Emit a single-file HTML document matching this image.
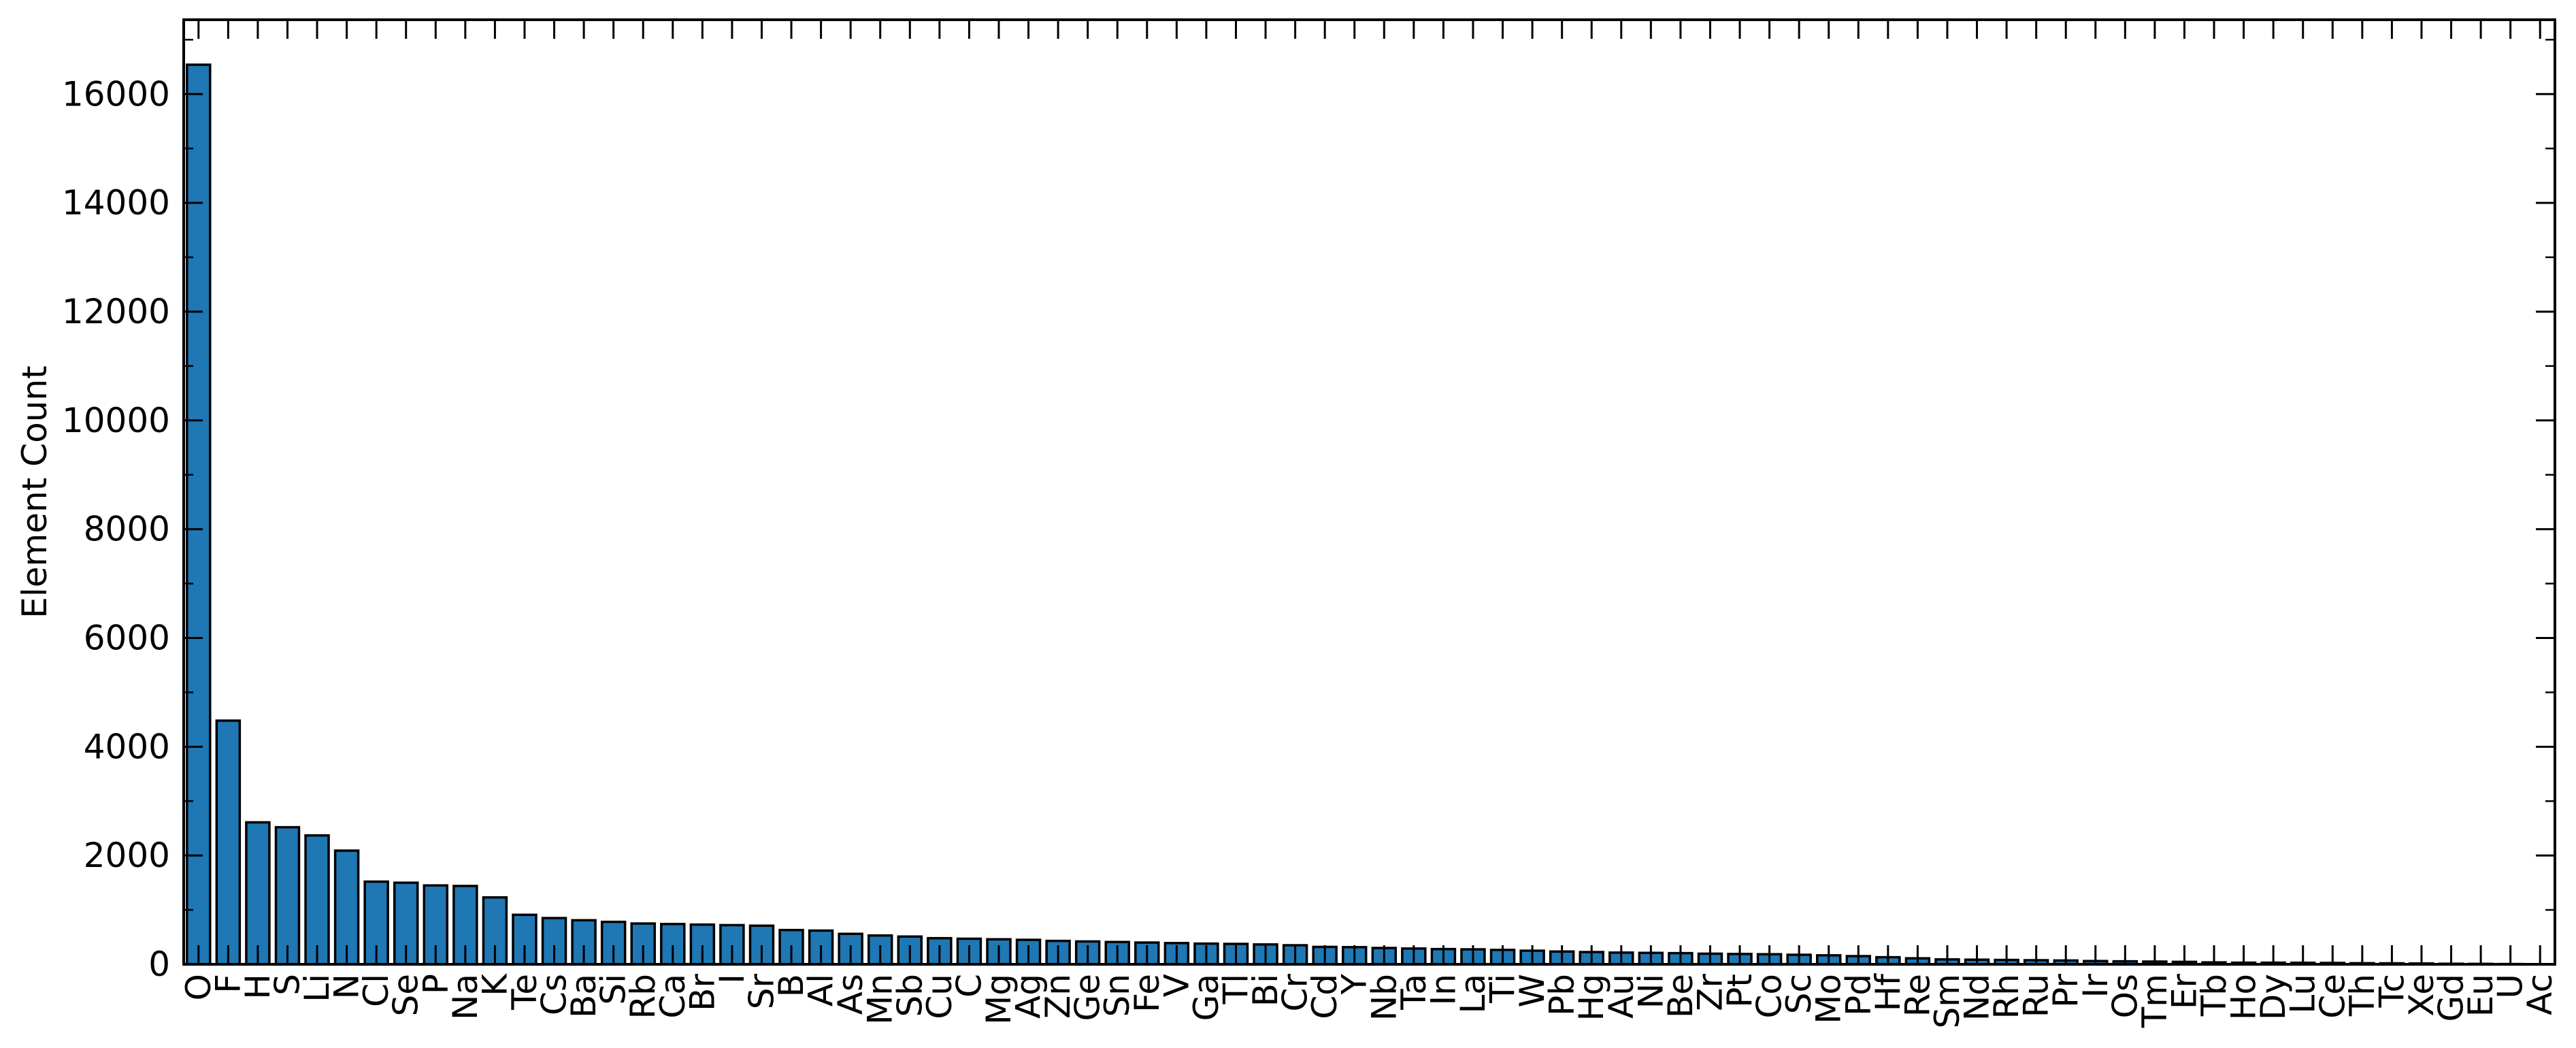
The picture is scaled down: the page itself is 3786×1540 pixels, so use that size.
<!DOCTYPE html>
<html><head><meta charset="utf-8">
<style>
html,body{margin:0;padding:0;background:#fff;}
svg{display:block;}
text{font-family:"DejaVu Sans","Liberation Sans",sans-serif;fill:#000;}
</style></head>
<body>
<svg id="chart" width="3786" height="1540" viewBox="0 0 3786 1540" xmlns="http://www.w3.org/2000/svg">
<g id="bars"></g>
<g id="axes"></g>
</svg>
<script>
const categories = ["O","F","H","S","Li","N","Cl","Se","P","Na","K","Te","Cs","Ba","Si","Rb","Ca","Br","I","Sr","B","Al","As","Mn","Sb","Cu","C","Mg","Ag","Zn","Ge","Sn","Fe","V","Ga","Tl","Bi","Cr","Cd","Y","Nb","Ta","In","La","Ti","W","Pb","Hg","Au","Ni","Be","Zr","Pt","Co","Sc","Mo","Pd","Hf","Re","Sm","Nd","Rh","Ru","Pr","Ir","Os","Tm","Er","Tb","Ho","Dy","Lu","Ce","Th","Tc","Xe","Gd","Eu","U","Ac"];
const counts = [16540,4480,2610,2520,2370,2090,1520,1500,1450,1440,1230,910,850,810,780,750,740,730,720,710,630,620,560,530,510,480,470,460,450,430,420,410,400,390,380,375,365,350,320,315,300,290,280,275,265,250,235,225,215,210,205,195,190,185,175,165,150,130,110,90,85,80,75,70,60,55,50,45,35,30,30,28,25,20,18,15,10,8,5,3];
const yTicks = [0,2000,4000,6000,8000,10000,12000,14000,16000];
const yMinorTicks = [1000,3000,5000,7000,9000,11000,13000,15000,17000];

const NS = "http://www.w3.org/2000/svg";
const L = 270, R = 3755, T = 29, B = 1417;
const yMax = 17367;
const n = categories.length;
const step = (R - L) / n;
const FS = 50;
function xScale(i){ return L + (i + 0.5) * step; }
function yScale(v){ return B - v / yMax * (B - T); }
function mk(tag, attrs, parent){
  const e = document.createElementNS(NS, tag);
  for (const k in attrs) e.setAttribute(k, attrs[k]);
  parent.appendChild(e);
  return e;
}
const gb = document.getElementById('bars');
const ga = document.getElementById('axes');
const bw = step * 0.78;
counts.forEach((v, i) => {
  const y = yScale(v);
  const r = mk('rect', {x: xScale(i) - bw/2, y: y, width: bw, height: B - y, fill: '#1f77b4', stroke: '#000', 'stroke-width': 3.5}, gb);
  
  
});
categories.forEach((c, i) => {
  const x = xScale(i);
  const t1 = mk('line', {x1: x, x2: x, y1: B, y2: B - 28, stroke: '#000', 'stroke-width': 3}, ga);
  
  
  const t2 = mk('line', {x1: x, x2: x, y1: T, y2: T + 28, stroke: '#000', 'stroke-width': 3}, ga);
  
  
  const tx = mk('text', {x: 0, y: 0, 'font-size': FS, 'text-anchor': 'end', 'dominant-baseline': 'central', transform: 'translate(' + x + ',' + (B + 14) + ') rotate(-90)'}, ga);
  tx.textContent = c;
  
  
});
yTicks.forEach(v => {
  const y = yScale(v);
  const a = mk('line', {x1: L, x2: L + 28, y1: y, y2: y, stroke: '#000', 'stroke-width': 3}, ga);
  
  
  const b = mk('line', {x1: R, x2: R - 28, y1: y, y2: y, stroke: '#000', 'stroke-width': 3}, ga);
  
  
  const t = mk('text', {x: L - 20, y: y, 'font-size': FS, 'text-anchor': 'end', 'dominant-baseline': 'central'}, ga);
  t.textContent = String(v);
  
  
});
yMinorTicks.forEach(v => {
  const y = yScale(v);
  const a = mk('line', {x1: L, x2: L + 14, y1: y, y2: y, stroke: '#000', 'stroke-width': 2.5}, ga);
  
  
  const b = mk('line', {x1: R, x2: R - 14, y1: y, y2: y, stroke: '#000', 'stroke-width': 2.5}, ga);
  
  
});
const frame = mk('rect', {x: L, y: T, width: R - L, height: B - T, fill: 'none', stroke: '#000', 'stroke-width': 4}, ga);


const yt = mk('text', {x: 0, y: 0, 'font-size': FS, 'text-anchor': 'middle', transform: 'translate(68,' + ((T + B) / 2) + ') rotate(-90)'}, ga);
yt.textContent = 'Element Count';


</script>
</body></html>
